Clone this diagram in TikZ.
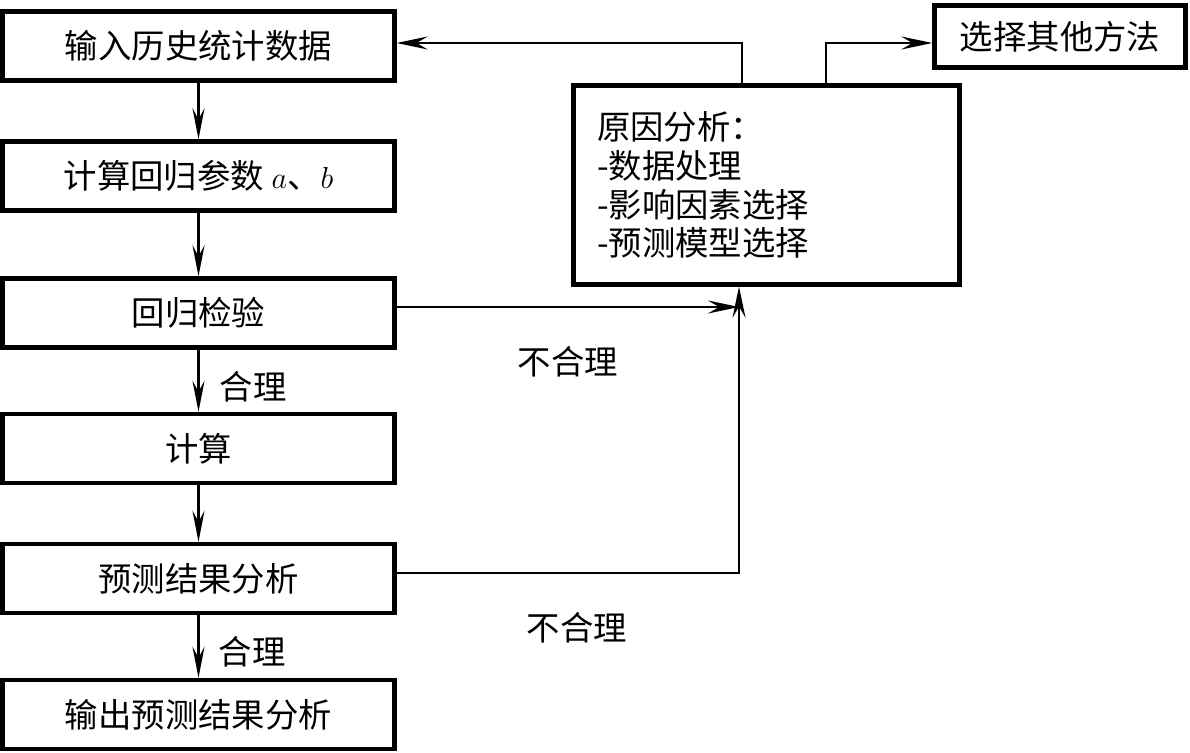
\documentclass[tikz,border=0pt]{standalone}
\usepackage{fontspec}
\newfontfamily\cjk{Noto Sans CJK SC}
\usetikzlibrary{arrows.meta}

\begin{document}
\begin{tikzpicture}[
        x=0.02cm, y=-0.02cm,
        font=\cjk\fontsize{19}{22.1}\selectfont,
        box/.style={
            draw,
            line width=2.5pt,
            minimum width=#1,
            inner sep=2pt,
            align=center
        },
        stepbox/.style={box=7.84cm, minimum height=1.38cm},
        line/.style={draw, line width=1.3pt},
        arrow/.style={line, line width=1.8pt, -{Stealth[length=0.62cm, width=0.24cm, inset=0.22cm]}},
        sidearrow/.style={line, -{Stealth[length=0.62cm, width=0.26cm, inset=0.22cm]}}
    ]
        \useasboundingbox (0,0) rectangle (1190,753);

        \node[stepbox] (input) at (198.5,46) {输入历史统计数据};
        \node[stepbox] (params) at (198.5,176) {计算回归参数 $a$、$b$};
        \node[stepbox] (check) at (198.5,313) {回归检验};
        \node[stepbox] (calc) at (198.5,448.5) {计算};
        \node[stepbox] (result) at (198.5,578.5) {预测结果分析};
        \node[stepbox] (output) at (198.5,714.5) {输出预测结果分析};

        \draw[arrow] (input) -- (params);
        \draw[arrow] (params) -- (check);
        \draw[arrow] (check) -- (calc);
        \draw[arrow] (calc) -- (result);
        \draw[arrow] (result) -- (output);

        \node (okcheck) at (253,387) {合理};
        \node (okresult) at (252,652) {合理};

        \node[box=7.72cm, minimum height=3.98cm, align=left, text width=6.78cm, inner sep=0.47cm] (cause) at (766.5,185)
            {原因分析：\\-数据处理\\-影响因素选择\\-预测模型选择};
        \node[box=5.02cm, minimum height=1.24cm] (other) at (1060,36.5) {选择其他方法};

        \coordinate (backtop) at (742,43);
        \draw[sidearrow] (cause.north -| backtop) -- (backtop) -- (input.east |- backtop);
        \coordinate (othertop) at (826,43);
        \draw[sidearrow] (cause.north -| othertop) -- (othertop) -- (other.west |- othertop);

        \coordinate (merge) at (739,307);
        \draw[sidearrow] (check.east |- merge) -- (merge);
        \coordinate (resultturn) at (739,573);
        \draw[sidearrow] (result.east |- resultturn) -- (resultturn) -- (cause.south -| resultturn);

        \node (badcheck) at (568,362) {不合理};
        \node (badresult) at (577,628) {不合理};
    \end{tikzpicture}
\end{document}
